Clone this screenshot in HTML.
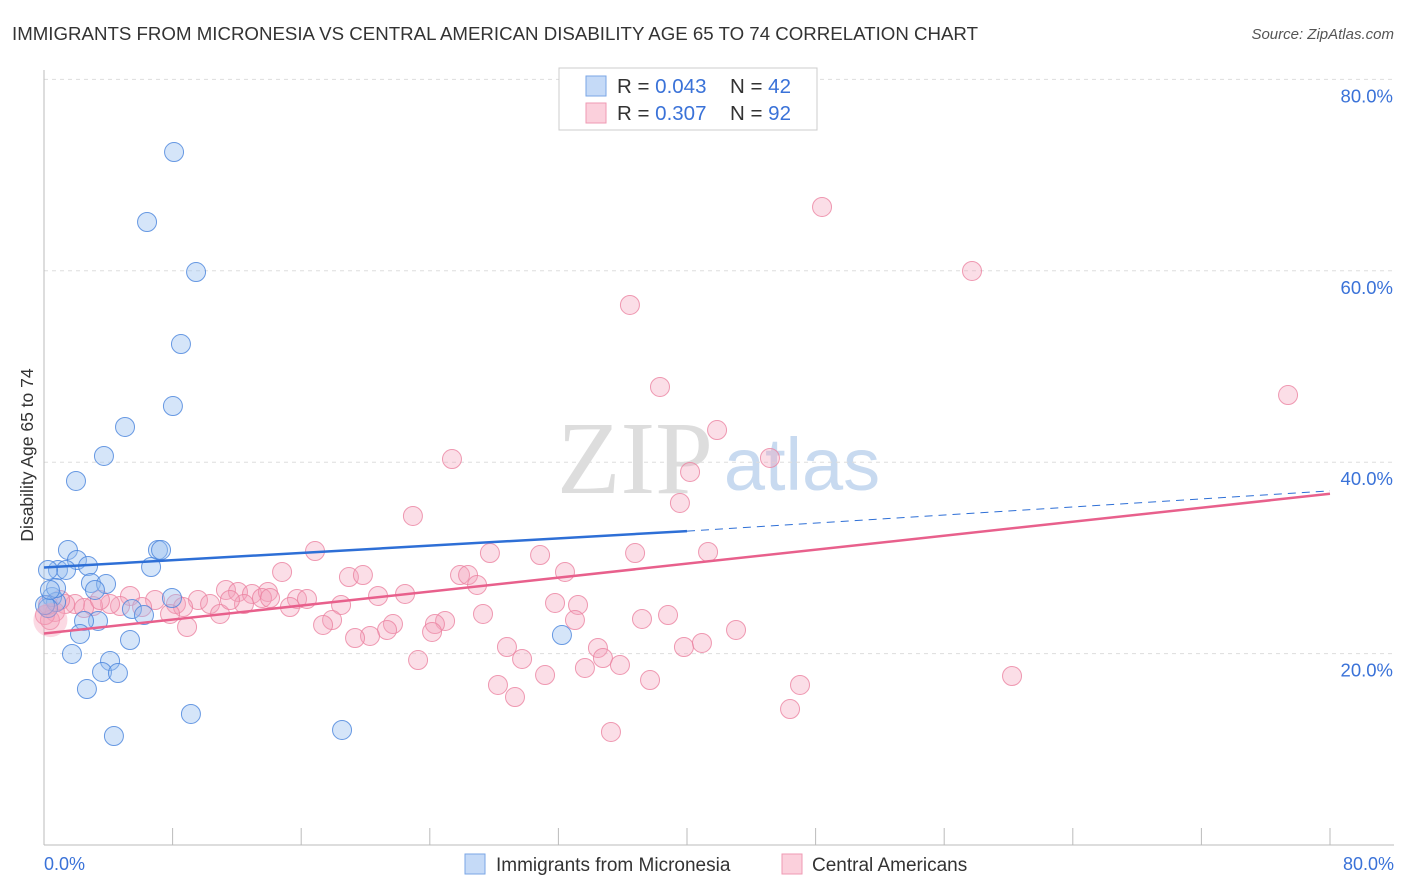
<!DOCTYPE html>
<html><head><meta charset="utf-8"><style>
body{margin:0;background:#fff;font-family:"Liberation Sans",sans-serif;}
svg{display:block}
</style></head><body>
<svg id="chart" width="1406" height="892">
<text x="12" y="40" font-size="18.5" fill="#333" textLength="966" lengthAdjust="spacingAndGlyphs">IMMIGRANTS FROM MICRONESIA VS CENTRAL AMERICAN DISABILITY AGE 65 TO 74 CORRELATION CHART</text>
<text x="1394" y="39" font-size="15" fill="#555" font-style="italic" text-anchor="end">Source: ZipAtlas.com</text>
<text x="635" y="493" font-size="104" fill="#ddd" font-family="Liberation Serif,serif" text-anchor="middle">ZIP</text>
<text x="802" y="490" font-size="74" fill="#c8daf0" text-anchor="middle">atlas</text>
<g id="grid"></g>
<line x1="44" y1="70" x2="44" y2="845" stroke="#bbb"/>
<line x1="44" y1="845" x2="1394" y2="845" stroke="#bbb"/>
<g id="ticks"></g>
<text x="33" y="455" font-size="17.5" fill="#333" text-anchor="middle" transform="rotate(-90 33 455)">Disability Age 65 to 74</text>
<text x="44" y="870" font-size="18" fill="#3a72d8">0.0%</text>
<text x="1394" y="870" font-size="18" fill="#3a72d8" text-anchor="end">80.0%</text>
<g id="pts"></g>
<g id="lines"></g>
<g>
<rect x="559" y="68" width="258" height="62" fill="#fff" stroke="#ccc"/>
<rect x="586" y="76" width="20" height="20" fill="#c5daf7" stroke="#7aa6e6"/>
<rect x="586" y="103" width="20" height="20" fill="#fbd0dc" stroke="#ef9ab3"/>
<text x="617" y="93" font-size="20.5" fill="#333">R = <tspan fill="#3a72d8">0.043</tspan><tspan x="730">N = </tspan><tspan fill="#3a72d8">42</tspan></text>
<text x="617" y="120" font-size="20.5" fill="#333">R = <tspan fill="#3a72d8">0.307</tspan><tspan x="730">N = </tspan><tspan fill="#3a72d8">92</tspan></text>
</g>
<g>
<rect x="465" y="854" width="20" height="20" fill="#c5daf7" stroke="#7aa6e6"/>
<text x="496" y="871" font-size="19" fill="#333">Immigrants from Micronesia</text>
<rect x="782" y="854" width="20" height="20" fill="#fbd0dc" stroke="#ef9ab3"/>
<text x="812" y="871" font-size="19" fill="#333">Central Americans</text>
</g>
</svg>
<script>
const yTicks=[20,40,60,80];
const xTicks=[0,8,16,24,32,40,48,56,64,72,80];
// pixel-read estimates converted to percent (x%, y%)
const bluePx=[[174,152],[147,222],[196,272],[181,344],[173,406],[125,427],[104,456],[76,481],[68,550],[158,550],[161,550],[77,560],[88,566],[58,570],[66,570],[151,567],[48,570],[91,583],[106,584],[95,590],[172,598],[52,597],[56,602],[48,608],[132,609],[144,615],[98,621],[84,621],[80,634],[130,640],[72,654],[110,661],[102,672],[118,673],[87,689],[191,714],[114,736],[342,730],[562,635],[56,588],[45,605],[50,590]];
const pinkPx=[[822,207],[972,271],[630,305],[660,387],[1288,395],[717,430],[770,458],[452,459],[690,472],[680,503],[413,516],[315,551],[490,553],[540,555],[635,553],[708,552],[565,572],[282,572],[349,577],[363,575],[460,575],[468,575],[477,585],[226,590],[238,592],[252,594],[268,592],[378,596],[405,594],[130,596],[155,600],[176,604],[198,600],[210,604],[244,604],[262,598],[297,599],[307,599],[341,605],[555,603],[578,605],[183,607],[120,606],[110,604],[93,606],[75,604],[65,604],[84,608],[220,614],[170,614],[290,607],[483,614],[642,619],[668,615],[332,620],[323,625],[393,624],[445,621],[435,624],[575,620],[736,630],[387,630],[432,632],[370,636],[355,638],[507,647],[598,648],[684,647],[702,643],[603,658],[620,665],[418,660],[522,659],[585,668],[545,675],[650,680],[498,685],[800,685],[1012,676],[515,697],[790,709],[611,732],[187,627],[55,612],[50,620],[60,600],[100,600],[142,607],[270,598],[45,615],[48,605],[230,600]];
const toX=p=>(p-44)/1286*80, toY=p=>(845-p)/765.6*80;
const blueX=bluePx.map(p=>+toX(p[0]).toFixed(2)), blueY=bluePx.map(p=>+toY(p[1]).toFixed(2));
const pinkX=pinkPx.map(p=>+toX(p[0]).toFixed(2)), pinkY=pinkPx.map(p=>+toY(p[1]).toFixed(2));
const blueFit=[29.0,32.8]; // y at x=0 and x=40
const blueFitEnd=37.0; // y at x=80 (dashed)
const pinkFit=[22.1,36.7]; // y at x=0 and x=80
const sx=v=>44+v/80*1286, sy=v=>845-v/80*765.6;
const NS="http://www.w3.org/2000/svg";
function mk(t,a,parent){const e=document.createElementNS(NS,t);for(const k in a)e.setAttribute(k,a[k]);parent.appendChild(e);return e;}
const grid=document.getElementById('grid');
yTicks.forEach(t=>{
 const l=mk('line',{x1:44,x2:1394,y1:sy(t),y2:sy(t),stroke:'#ddd','stroke-dasharray':'4,4'},grid);
 
 
 const tx=mk('text',{x:1393,y:sy(t)+23,'font-size':18.5,fill:'#3a72d8','text-anchor':'end'},grid);
 tx.textContent=t.toFixed(1)+'%';
 
 
});
const ticks=document.getElementById('ticks');
xTicks.forEach(t=>{
 const l=mk('line',{x1:sx(t),x2:sx(t),y1:828,y2:845,stroke:'#bbb'},ticks);
 
 
});
const pts=document.getElementById('pts');
pinkX.forEach((x,i)=>{
 const c=mk('circle',{cx:sx(x),cy:sy(pinkY[i]),r:9.5,fill:'rgba(244,160,185,0.35)',stroke:'rgba(235,130,160,0.8)','stroke-width':1},pts);
 
 
});
blueX.forEach((x,i)=>{
 const c=mk('circle',{cx:sx(x),cy:sy(blueY[i]),r:9.5,fill:'rgba(150,190,240,0.4)',stroke:'rgba(70,130,220,0.8)','stroke-width':1},pts);
 
 
});
const big=mk('circle',{cx:sx(0.4),cy:sy(23.5),r:17,fill:'rgba(244,160,185,0.4)',stroke:'none'},pts);


const lines=document.getElementById('lines');
let l1=mk('line',{x1:sx(0),y1:sy(blueFit[0]),x2:sx(40),y2:sy(blueFit[1]),stroke:'#2e6fd6','stroke-width':2.5},lines);


let l2=mk('line',{x1:sx(40),y1:sy(blueFit[1]),x2:sx(80),y2:sy(blueFitEnd),stroke:'#2e6fd6','stroke-width':1,'stroke-dasharray':'8,6'},lines);


let l3=mk('line',{x1:sx(0),y1:sy(pinkFit[0]),x2:sx(80),y2:sy(pinkFit[1]),stroke:'#e8608c','stroke-width':2.5},lines);


</script>
</body></html>
